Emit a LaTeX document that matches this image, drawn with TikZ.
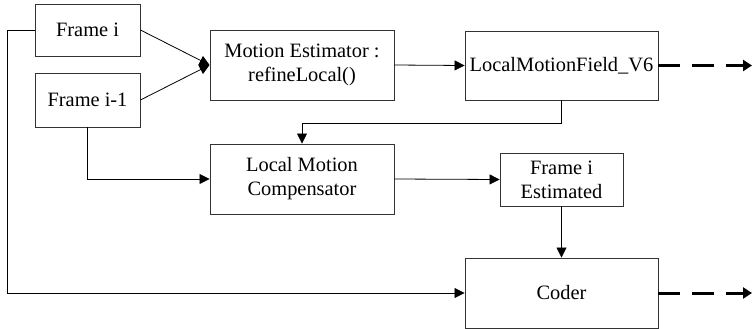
\documentclass[tikz,border=0pt]{standalone}
\usepackage{fontspec}
\setmainfont{Liberation Serif}
\newfontfamily\blockfont{Liberation Serif}
\usetikzlibrary{arrows.meta}
\begin{document}
\begin{tikzpicture}[x=1pt,y=-1pt,
  box/.style={draw=black!80, line width=0.9pt, fill=white, align=center,
    inner sep=0pt, font=\blockfont\fontsize{20.4}{24}\selectfont},
  link/.style={line width=0.8pt, -{Triangle[length=10pt,width=10pt]}},
  outflow/.style={line width=3pt, dash pattern=on 22pt off 12pt,
    -{Triangle[length=9pt,width=11pt]}}]
  \useasboundingbox (0,0) rectangle (752,329);

  % blocks
  \node[box, minimum width=105pt, minimum height=52pt] (fi)  at (87.5,30) {Frame i};
  \node[box, minimum width=105pt, minimum height=54pt] (fim) at (87.5,100) {Frame i-1};
  \node[box, minimum width=184pt, minimum height=70pt] (me)  at (302,65) {Motion Estimator :\\refineLocal()};
  \node[box, minimum width=193pt, minimum height=69pt] (lmf) at (561.5,65.5) {LocalMotionField\_V6};
  \node[box, minimum width=184pt, minimum height=70pt] (lmc) at (302,179) {Local Motion\\Compensator};
  \node[box, minimum width=123pt, minimum height=53pt] (fie) at (561.5,179.5) {Frame i\\Estimated};
  \node[box, minimum width=193pt, minimum height=70pt] (cod) at (561.5,293) {Coder};

  % open outputs
  \coordinate (out1) at (752,65.5);
  \coordinate (out2) at (752,293);

  % connectors
  \draw[link] (fi.east) -- (me.west);
  \draw[link] (fim.east) -- (me.west);
  \draw[link] (me.east) -- (lmf.west);
  \draw[link] (lmf.south) -- ++(0,23) -| (lmc.north);
  \draw[link] (fim.south) |- (lmc.west);
  \draw[link] (lmc.east) -- (fie.west);
  \draw[link] (fie.south) -- (cod.north);
  \draw[link] (fi.west) -- ++(-27,0) |- (cod.west);

  \draw[outflow] (lmf.east) -- (out1);
  \draw[outflow] (cod.east) -- (out2);
\end{tikzpicture}
\end{document}
